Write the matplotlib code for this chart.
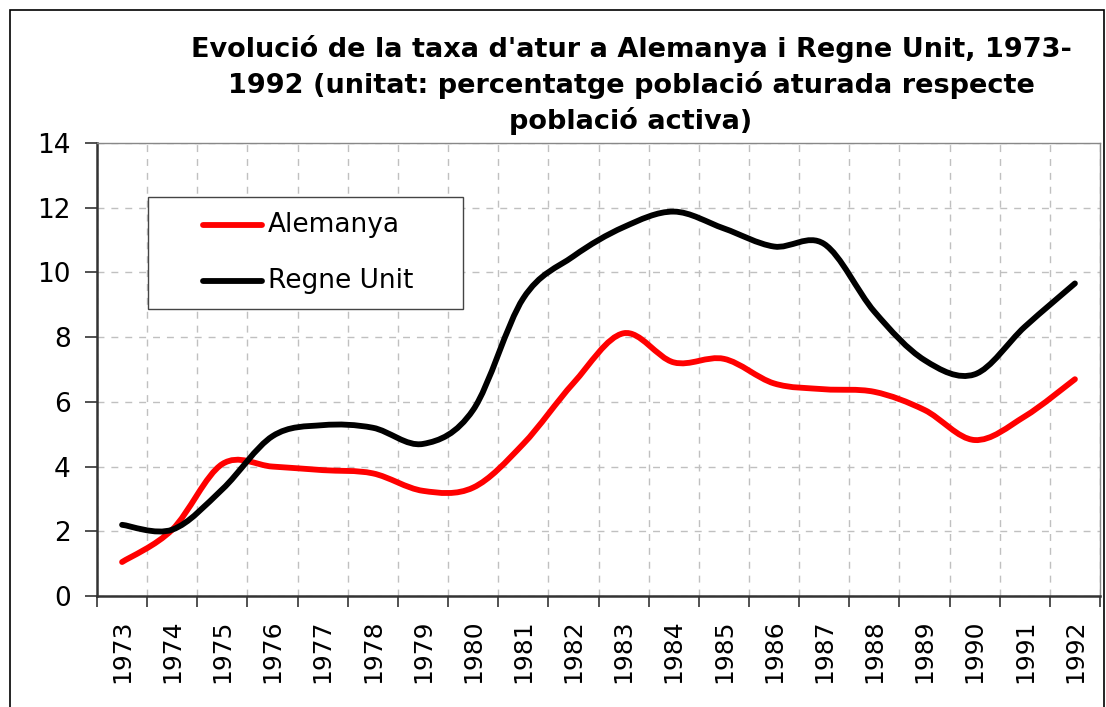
import numpy as np
import matplotlib
matplotlib.use('Agg')
import matplotlib.pyplot as plt
from matplotlib.path import Path
from matplotlib.patches import PathPatch, Rectangle
from matplotlib.lines import Line2D

years = [str(y) for y in range(1973, 1993)]
alemanya = [1.05, 2.05, 4.08, 4.0, 3.89, 3.79, 3.25, 3.35, 4.7, 6.58,
            8.12, 7.22, 7.33, 6.57, 6.39, 6.31, 5.75, 4.82, 5.55, 6.7]
regne_unit = [2.2, 2.05, 3.3, 4.94, 5.28, 5.2, 4.7, 5.75, 9.2, 10.5,
              11.4, 11.88, 11.36, 10.8, 10.88, 8.79, 7.29, 6.85, 8.32, 9.66]
series = ['Alemanya', 'Regne Unit']
colors = ['#ff0000', '#000000']

title = ("Evolució de la taxa d'atur a Alemanya i Regne Unit, 1973-\n"
         "1992 (unitat: percentatge població aturada respecte\n"
         "població activa)")


def smooth_path(x, y):
    # bezier through every point, like a spreadsheet "smoothed line"
    p = np.column_stack([x, y]).astype(float)
    n = len(p)
    verts = [p[0]]
    codes = [Path.MOVETO]
    for i in range(n - 1):
        p0 = p[i - 1] if i > 0 else p[i]
        p3 = p[i + 2] if i + 2 < n else p[i + 1]
        c1 = p[i] + (p[i + 1] - p0) / 6.0
        c2 = p[i + 1] - (p3 - p[i]) / 6.0
        verts += [c1, c2, p[i + 1]]
        codes += [Path.CURVE4] * 3
    return Path(verts, codes)


fig = plt.figure(figsize=(11.06, 7.07), dpi=100)
ax = fig.add_axes([97 / 1106, 1 - 596 / 707, 1003 / 1106, 453 / 707])

x = np.arange(len(years))
for vals, col in zip([alemanya, regne_unit], colors):
    ax.add_patch(PathPatch(smooth_path(x, vals), facecolor='none', edgecolor=col,
                           lw=4.2, capstyle='round', joinstyle='round', zorder=3))

ax.set_xlim(-0.5, len(years) - 0.5)
ax.set_ylim(0, 14)
ax.set_yticks(range(0, 15, 2))
ax.set_xticks(np.arange(-0.5, len(years), 1.0))
ax.set_xticklabels([])
ax.set_xticks(x, minor=True)
ax.set_xticklabels(years, minor=True, rotation=90)
ax.tick_params(axis='x', which='major', length=8, width=1.2, color='#333333')
ax.tick_params(axis='x', which='minor', length=0, labelsize=18, pad=17)
ax.tick_params(axis='y', length=9, width=1.2, color='#333333', labelsize=19, pad=10)
ax.grid(True, which='major', color='#c0c0c0', linestyle=(0, (5, 5)), lw=1.0)
ax.set_axisbelow(True)
for s in ['left', 'bottom']:
    ax.spines[s].set_color('#333333')
    ax.spines[s].set_linewidth(1.8)
for s in ['top', 'right']:
    ax.spines[s].set_color('#888888')
    ax.spines[s].set_linewidth(1.0)

# legend box drawn by hand (wide side padding)
ax.add_patch(Rectangle((0.0508, 0.6336), 0.3141, 0.2472, transform=ax.transAxes,
                       facecolor='white', edgecolor='#444444', lw=1.0, zorder=5))
for row_y, name, col in zip([0.819, 0.6954], series, colors):
    ax.add_line(Line2D([0.1057, 0.1645], [row_y, row_y], transform=ax.transAxes,
                       color=col, lw=4.2, solid_capstyle='round', zorder=6))
    ax.text(0.1705, row_y, name, transform=ax.transAxes, fontsize=19,
            va='center', ha='left', zorder=6)

fig.text(631 / 1106, 1 - 85 / 707, title, ha='center', va='center',
         fontsize=19.5, fontweight='bold', linespacing=1.38)

fig.patches.append(Rectangle((10 / 1106, -0.01), 1094 / 1106, 1 - 10 / 707 + 0.01,
                             transform=fig.transFigure, fill=False,
                             edgecolor='black', lw=1.2))

fig.savefig('out.png', dpi=100)
